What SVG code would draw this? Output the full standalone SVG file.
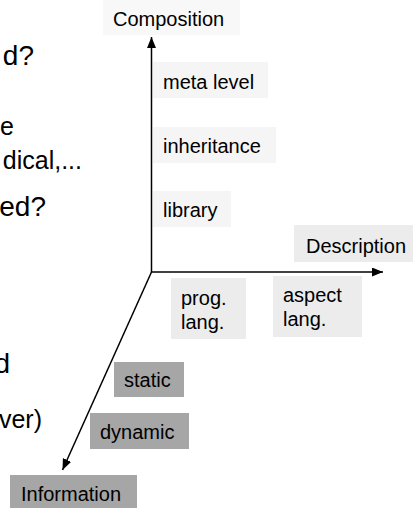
<svg xmlns="http://www.w3.org/2000/svg" width="413" height="508" viewBox="0 0 413 508">
<defs>
<style>
text{font-family:"Liberation Sans",Arial,sans-serif;fill:#000}
.lbl{font-size:20px}
.big{font-size:28px}
.mid{font-size:25px}
.b0{fill:#f8f8f8}
.b1{fill:#f5f5f5}
.b2{fill:#ececec}
.b3{fill:#a6a6a6}
.ax{stroke:#000;stroke-width:1.5;fill:none}
</style>
<marker id="ah" markerUnits="userSpaceOnUse" markerWidth="11" markerHeight="9" refX="11" refY="4.5" orient="auto">
<path d="M0,0 L11,4.5 L0,9 z" fill="#000"/>
</marker>
</defs>
<rect width="413" height="508" fill="#fff"/>
<g id="left-text">
<text class="big" x="34" y="65" text-anchor="end">d?</text>
<text class="mid" x="14" y="135" text-anchor="end">e</text>
<text class="mid" x="82" y="169" text-anchor="end">dical,...</text>
<text class="big" x="46" y="216" text-anchor="end">ed?</text>
<text class="big" x="10" y="373" text-anchor="end">d</text>
<text class="mid" x="42" y="428" text-anchor="end">ver)</text>
</g>
<g id="connectors">
<line class="ax" x1="151.5" y1="272" x2="151.5" y2="37" marker-end="url(#ah)"/>
<line class="ax" x1="151" y1="272" x2="383" y2="272" marker-end="url(#ah)"/>
<line class="ax" x1="151.5" y1="272" x2="62.5" y2="470" marker-end="url(#ah)"/>
</g>
<g id="composition"><rect class="b0" x="103" y="0" width="137" height="35"/><text class="lbl" x="113" y="26">Composition</text></g>
<g id="meta-level"><rect class="b1" x="153" y="62" width="115" height="36"/><text class="lbl" x="163" y="89">meta level</text></g>
<g id="inheritance"><rect class="b1" x="153" y="127" width="123" height="36"/><text class="lbl" x="163" y="153">inheritance</text></g>
<g id="library"><rect class="b1" x="153" y="191" width="78" height="36"/><text class="lbl" x="163" y="217">library</text></g>
<g id="description"><rect class="b2" x="294" y="225" width="119" height="37"/><text class="lbl" x="306" y="253">Description</text></g>
<g id="prog-lang"><rect class="b2" x="171" y="278" width="75" height="61"/><text class="lbl" x="181" y="305">prog.</text><text class="lbl" x="181" y="329">lang.</text></g>
<g id="aspect-lang"><rect class="b2" x="273" y="276" width="89" height="61"/><text class="lbl" x="283" y="302">aspect</text><text class="lbl" x="283" y="326">lang.</text></g>
<g id="static"><rect class="b3" x="114" y="362" width="70" height="35"/><text class="lbl" x="124" y="387">static</text></g>
<g id="dynamic"><rect class="b3" x="90" y="413" width="99" height="36"/><text class="lbl" x="100" y="439">dynamic</text></g>
<g id="information"><rect class="b3" x="10" y="475" width="127" height="33"/><text class="lbl" x="21" y="501">Information</text></g>
</svg>
